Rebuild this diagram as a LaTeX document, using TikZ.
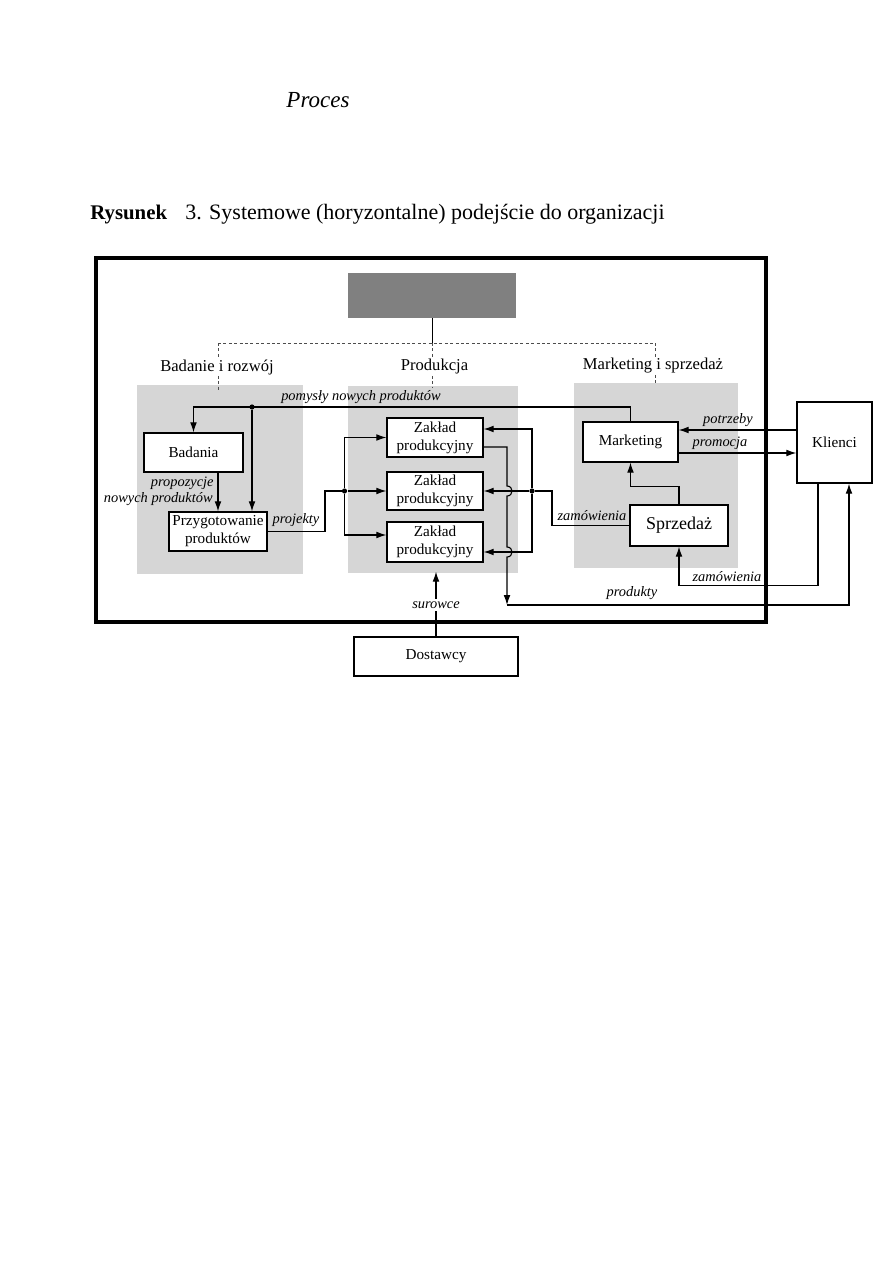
\documentclass[tikz,border=0pt]{standalone}
\usepackage{fontspec}
\setmainfont{Liberation Serif}
\usetikzlibrary{arrows.meta,calc}
\begin{document}
\begin{tikzpicture}[x=0.5pt,y=-0.5pt,
  box/.style={draw, line width=0.65pt, fill=white, inner sep=0pt, align=center, font=\fontsize{7.6}{9}\selectfont},
  lbl/.style={font=\itshape\fontsize{7.2}{8.5}\selectfont, inner sep=0.5pt},
  head/.style={font=\fontsize{8.3}{10}\selectfont, inner sep=0.5pt},
  conn/.style={line width=0.55pt},
  arr/.style={conn, -{Latex[length=5pt,width=3.4pt]}},
  shadearea/.style={fill=black!16, draw=none},
  dotnode/.style={circle, fill, inner sep=0pt, minimum size=2.6pt},
  dsh/.style={line width=0.4pt, black!70, dash pattern=on 1.5pt off 1.2pt},
]
\useasboundingbox[fill=white] (0,0) rectangle (893,1263);

% handwritten note and title
\node[font=\itshape\fontsize{11.5}{14}\selectfont] (hand) at (318,100) {Proces};
\node[anchor=base west, inner sep=0pt, font=\bfseries\fontsize{10.4}{12}\selectfont] (fig) at (90,219) {Rysunek};
\node[anchor=base west, inner sep=0pt, font=\fontsize{11}{12}\selectfont] (title) at (185,219) {3. Systemowe (horyzontalne) podejście do organizacji};

% shaded department areas
\fill[shadearea] (137,385) rectangle (303,574);
\fill[shadearea] (348,386) rectangle (518,573);
\fill[shadearea] (574,383) rectangle (738,568);

% outer frame
\draw[line width=1.6pt] (96,258) rectangle (766,622);

% top management box
\node[fill=black!50, minimum width=84pt, minimum height=22.5pt, inner sep=0pt] (topbox) at (432,295.5) {};

% department headings
\node[head] (h1) at (217,367) {Badanie i rozwój};
\node[head] (h2) at (434.5,367) {Produkcja};
\node[head] (h3) at (653,366) {Marketing i sprzedaż};

\coordinate (hl) at (218,343);
\coordinate (hm) at (432,343);
\coordinate (hr) at (655,343);
\draw[conn, line width=0.4pt] (topbox.south) -- (hm);
\draw[dsh] (hl) -- (hr);
\draw[dsh] (hl) -- (hl |- h1.north);
\draw[dsh] (hm) -- (hm |- h2.north);
\draw[dsh] (hr) -- (hr |- h3.north);
\draw[dsh] (h1.south -| hl) -- ++(0,16);
\draw[dsh] (h2.south -| hm) -- ++(0,12);
\draw[dsh] (h3.south -| hr) -- ++(0,8);

% boxes
\node[box, minimum width=49.5pt, minimum height=19.5pt] (badania) at (193.5,452.5) {Badania};
\node[box, minimum width=49pt, minimum height=19.5pt] (przyg) at (218,531.5) {Przygotowanie\\produktów};
\node[box, minimum width=48pt, minimum height=19.5pt] (zak1) at (435,437.5) {Zakład\\produkcyjny};
\node[box, minimum width=48pt, minimum height=19pt] (zak2) at (435,491) {Zakład\\produkcyjny};
\node[box, minimum width=48pt, minimum height=20pt] (zak3) at (435,542) {Zakład\\produkcyjny};
\node[box, minimum width=47.5pt, minimum height=20pt] (marketing) at (630.5,442) {Marketing};
\node[box, minimum width=49pt, minimum height=20.5pt, font=\fontsize{9}{10}\selectfont] (sprzedaz) at (679,525.5) {Sprzedaż};
\node[box, minimum width=37.5pt, minimum height=40.5pt] (klienci) at (834.5,442.5) {Klienci};
\node[box, minimum width=82pt, minimum height=19.5pt] (dostawcy) at (436,656.5) {Dostawcy};

% pomysly nowych produktow
\coordinate (ptop) at (0,407);
\draw[arr] (marketing.north) -- (marketing.north |- ptop) -- (badania.north |- ptop) -- (badania.north);
\node[dotnode] (d1) at (252,407) {};
\draw[arr] (d1) -- (d1 |- przyg.north);
\node[lbl, anchor=south] (lpom) at (361,405) {pomysły nowych produktów};

% propozycje
\draw[arr] (przyg.north |- badania.south) -- (przyg.north);
\node[lbl, anchor=east] (lprop1) at (215,483) {propozycje};
\node[lbl, anchor=east] (lprop2) at (214,499.5) {nowych produktów};

% projekty
\node[dotnode] (d2) at (344.5,491) {};
\draw[conn] (przyg.east) -| (325,491) -- (d2);
\node[lbl, anchor=south] (lproj) at (296,528) {projekty};
\draw[arr] (d2) -- (zak2.west);
\draw[arr] (d2) |- (zak1.west);
\draw[arr] (d2) |- ($(zak3.west)+(0,-7)$);

% zamowienia into production
\node[dotnode] (d3) at (532,491) {};
\draw[arr] (d3) |- ($(zak1.east)+(0,-8.5)$);
\draw[arr] (d3) -- (zak2.east);
\draw[arr] (d3) |- ($(zak3.east)+(0,10)$);
\draw[conn] (sprzedaz.west) -| (552,491) -- (d3);
\node[lbl, anchor=south] (lzam1) at (592,522) {zamówienia};

% produkty
\coordinate (pc) at (507,605);
\draw[arr] ($(zak1.east)+(0,9.5)$) -- (507,447) -- (507,486)
  .. controls (513.7,486) and (513.7,496) .. (507,496) -- (507,547)
  .. controls (513.7,547) and (513.7,557) .. (507,557) -- (pc);
\draw[arr] (pc) -| ($(klienci.south)+(14.5,0)$);
\node[lbl, anchor=south] (lprod) at (632,601) {produkty};

% klienci -> sprzedaz
\draw[arr] ($(klienci.south)+(-16.5,0)$) -- ++(0,102) -| (sprzedaz.south);
\node[lbl, anchor=south] (lzam2) at (727,583) {zamówienia};

% sprzedaz -> marketing
\draw[arr] (sprzedaz.north) -- ++(0,-17.5) -| (marketing.south);

% potrzeby / promocja
\coordinate (kp) at ($(klienci.west)+(0,-12.5)$);
\draw[arr] (kp) -- (kp -| marketing.east);
\node[lbl, anchor=south] (lpot) at (728,428) {potrzeby};
\coordinate (mp) at ($(marketing.east)+(0,11)$);
\draw[arr] (mp) -- (mp -| klienci.west);
\node[lbl, anchor=south] (lpro) at (720,451) {promocja};

% surowce
\draw[arr, shorten >=4.5pt] (dostawcy.north) -- (dostawcy.north |- zak3.south);
\node[lbl, fill=white, inner sep=1.5pt] (lsur) at (436,605) {surowce};
\end{tikzpicture}
\end{document}
